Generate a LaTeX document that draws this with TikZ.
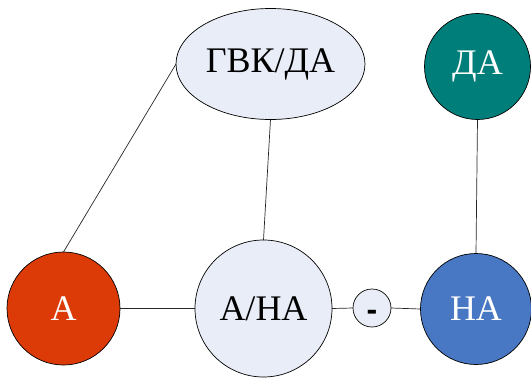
\documentclass[tikz,border=0pt]{standalone}
\usepackage{fontspec}
\setmainfont{Liberation Serif}
\newfontfamily\minusfont{Liberation Sans}
\usetikzlibrary{shapes.geometric}
\definecolor{redA}{HTML}{DC3A06}
\definecolor{tealDA}{HTML}{007F7A}
\definecolor{blueNA}{HTML}{4877C3}
\definecolor{lightfill}{HTML}{E8EDF7}
\tikzset{
  base/.style={draw=black, line width=0.7pt, inner sep=0pt, outer sep=0pt,
    font=\fontsize{36}{40}\selectfont},
  circ/.style={base, circle, minimum size=#1},
  conn/.style={draw=black!85, line width=0.7pt},
}
\begin{document}
\begin{tikzpicture}[x=1pt,y=-1pt]
\useasboundingbox (0,0) rectangle (531,378);
\node[base, ellipse, fill=lightfill, minimum width=189, minimum height=111] (gvk) at (270.5,64) {ГВК/ДА};
\node[circ=106, fill=tealDA, text=white] (da) at (477.5,66.5) {ДА};
\node[circ=113, fill=redA, text=white] (a) at (63.5,308.5) {А};
\node[circ=137, fill=lightfill] (ana) at (263.5,308.5) {А/НА};
\node[circ=38, fill=lightfill, font=\minusfont\bfseries\fontsize{32}{34}\selectfont] (minus) at (372,308) {\raisebox{-12.5pt}[0pt][0pt]{-}};
\node[circ=111, fill=blueNA, text=white] (na) at (476,309) {НА};
\draw[conn] (gvk.west) -- (a.north);
\draw[conn] (gvk.south) -- (ana.north);
\draw[conn] (da.south) -- (na.north);
\draw[conn] (a.east) -- (ana.west);
\draw[conn] (ana.east) -- (minus.west);
\draw[conn] (minus.east) -- (na.west);
\end{tikzpicture}
\end{document}
